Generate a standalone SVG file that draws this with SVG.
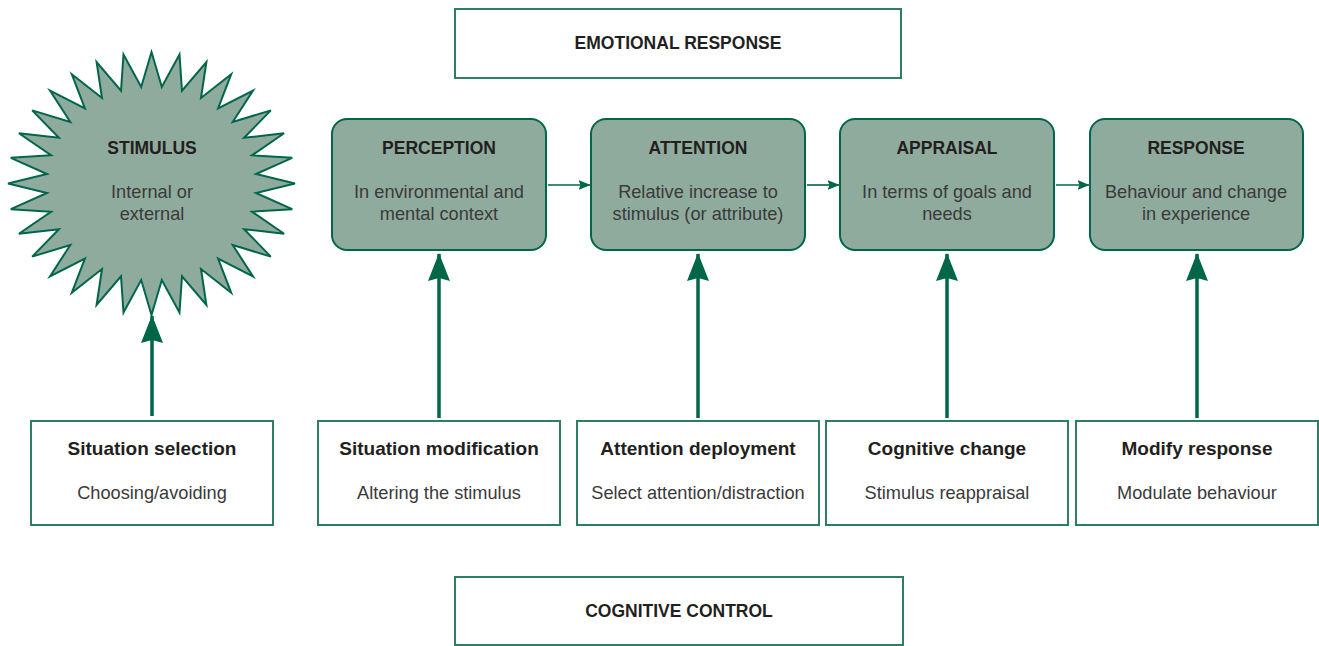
<svg xmlns="http://www.w3.org/2000/svg" width="1319" height="646" viewBox="0 0 1319 646">
<style>
.stage{fill:#8fab9e;stroke:#00664a;stroke-width:2}
.ctl{fill:#ffffff;stroke:#2e7d64;stroke-width:2}
.t{font-family:"Liberation Sans",Arial,sans-serif;font-weight:bold;font-size:17.5px;fill:#231f20;text-anchor:middle}
.tb{font-family:"Liberation Sans",Arial,sans-serif;font-weight:bold;font-size:19px;fill:#231f20;text-anchor:middle}
.s{font-family:"Liberation Sans",Arial,sans-serif;font-size:18.2px;fill:#3a3a3a;text-anchor:middle}
.up{stroke:#006648;stroke-width:3.5;fill:none}
.rt{stroke:#006648;stroke-width:1.6;fill:none}
</style>
<defs>
<marker id="bigArrow" markerUnits="userSpaceOnUse" viewBox="0 0 28 22" refX="27" refY="11" markerWidth="28" markerHeight="22" orient="auto">
<path d="M0,0 L28,11 L0,22 L3,11 z" fill="#006648"/>
</marker>
<marker id="smallArrow" markerUnits="userSpaceOnUse" viewBox="0 0 12 10" refX="11.5" refY="5" markerWidth="12" markerHeight="10" orient="auto">
<path d="M0,0 L12,5 L0,10 L2,5 z" fill="#006648"/>
</marker>
</defs>

<g id="emotional-response">
<rect class="ctl" x="455" y="9" width="446" height="69"/>
<text class="t" x="678" y="49">EMOTIONAL RESPONSE</text>
</g>

<g id="stimulus">
<polygon class="stage" stroke-width="1.8" points="151.5,52 161.8,87 179.5,54.5 182,90.7 206.4,62 201,98 231.2,74.2 218.1,108.5 253,90.5 232.7,122 270.8,110.4 244.1,137.8 284.1,133.2 252,155.3 292.2,157.8 256,174 295,183.5 256,193 292.2,209.2 252,211.7 284.1,233.8 244.1,229.2 270.8,256.6 232.7,245 253,276.5 218.1,258.5 231.2,292.8 201,269 206.4,305 182,276.3 179.5,312.5 161.8,280 151.5,315 141.2,280 123.5,312.5 121,276.3 96.6,305 102,269 71.8,292.8 84.9,258.5 50,276.5 70.3,245 32.2,256.6 58.9,229.2 18.9,233.8 51,211.7 10.8,209.2 47,193 8,183.5 47,174 10.8,157.8 51,155.3 18.9,133.2 58.9,137.8 32.2,110.4 70.3,122 50,90.5 84.9,108.5 71.8,74.2 102,98 96.6,62 121,90.7 123.5,54.5 141.2,87"/>
<text class="t" x="152" y="154">STIMULUS</text>
<text class="s" x="152" y="198">Internal or</text>
<text class="s" x="152" y="220">external</text>
</g>

<g id="perception">
<rect class="stage" x="332" y="119" width="214" height="131" rx="15"/>
<text class="t" x="439" y="154">PERCEPTION</text>
<text class="s" x="439" y="198">In environmental and</text>
<text class="s" x="439" y="220">mental context</text>
</g>

<g id="attention">
<rect class="stage" x="591" y="119" width="214" height="131" rx="15"/>
<text class="t" x="698" y="154">ATTENTION</text>
<text class="s" x="698" y="198">Relative increase to</text>
<text class="s" x="698" y="220">stimulus (or attribute)</text>
</g>

<g id="appraisal">
<rect class="stage" x="840" y="119" width="214" height="131" rx="15"/>
<text class="t" x="947" y="154">APPRAISAL</text>
<text class="s" x="947" y="198">In terms of goals and</text>
<text class="s" x="947" y="220">needs</text>
</g>

<g id="response">
<rect class="stage" x="1090" y="119" width="213" height="131" rx="15"/>
<text class="t" x="1196" y="154">RESPONSE</text>
<text class="s" x="1196" y="198">Behaviour and change</text>
<text class="s" x="1196" y="220">in experience</text>
</g>

<g id="situation-selection">
<rect class="ctl" x="31" y="421" width="242" height="104"/>
<text class="tb" x="152" y="455">Situation selection</text>
<text class="s" x="152" y="499">Choosing/avoiding</text>
</g>

<g id="situation-modification">
<rect class="ctl" x="318" y="421" width="242" height="104"/>
<text class="tb" x="439" y="455">Situation modification</text>
<text class="s" x="439" y="499">Altering the stimulus</text>
</g>

<g id="attention-deployment">
<rect class="ctl" x="577" y="421" width="242" height="104"/>
<text class="tb" x="698" y="455">Attention deployment</text>
<text class="s" x="698" y="499">Select attention/distraction</text>
</g>

<g id="cognitive-change">
<rect class="ctl" x="826" y="421" width="242" height="104"/>
<text class="tb" x="947" y="455">Cognitive change</text>
<text class="s" x="947" y="499">Stimulus reappraisal</text>
</g>

<g id="modify-response">
<rect class="ctl" x="1076" y="421" width="242" height="104"/>
<text class="tb" x="1197" y="455">Modify response</text>
<text class="s" x="1197" y="499">Modulate behaviour</text>
</g>

<g id="cognitive-control">
<rect class="ctl" x="455" y="577" width="448" height="68"/>
<text class="t" x="679" y="617">COGNITIVE CONTROL</text>
</g>

<g id="connectors">
<line class="up" x1="152" y1="416" x2="152" y2="316" marker-end="url(#bigArrow)"/>
<line class="up" x1="439" y1="418" x2="439" y2="254" marker-end="url(#bigArrow)"/>
<line class="up" x1="698" y1="418" x2="698" y2="254" marker-end="url(#bigArrow)"/>
<line class="up" x1="947" y1="418" x2="947" y2="254" marker-end="url(#bigArrow)"/>
<line class="up" x1="1197" y1="418" x2="1197" y2="254" marker-end="url(#bigArrow)"/>
<line class="rt" x1="548" y1="185" x2="590" y2="185" marker-end="url(#smallArrow)"/>
<line class="rt" x1="807" y1="185" x2="839" y2="185" marker-end="url(#smallArrow)"/>
<line class="rt" x1="1056" y1="185" x2="1089" y2="185" marker-end="url(#smallArrow)"/>
</g>
</svg>
